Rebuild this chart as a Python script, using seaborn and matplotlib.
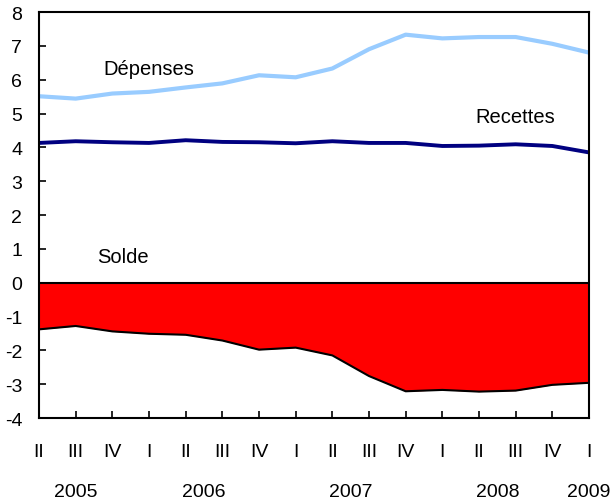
import matplotlib
matplotlib.use("Agg")
import matplotlib.pyplot as plt
import matplotlib.transforms as mtransforms
import seaborn as sns
import pandas as pd
import numpy as np

quarters = ["II", "III", "IV", "I", "II", "III", "IV", "I", "II", "III", "IV", "I", "II", "III", "IV", "I"]
years = ["2005", "2006", "2007", "2008", "2009"]
year_pos = [1, 4.5, 8.5, 12.5, 15]
depenses = [5.51, 5.44, 5.59, 5.64, 5.77, 5.89, 6.13, 6.07, 6.33, 6.90, 7.33, 7.22, 7.26, 7.26, 7.06, 6.80]
recettes = [4.13, 4.18, 4.15, 4.13, 4.21, 4.16, 4.15, 4.12, 4.18, 4.13, 4.13, 4.04, 4.05, 4.09, 4.04, 3.85]
solde = [-1.38, -1.28, -1.44, -1.51, -1.54, -1.71, -1.98, -1.92, -2.15, -2.76, -3.21, -3.17, -3.22, -3.19, -3.02, -2.96]

sns.set_theme(style="white")
plt.rcParams['font.family'] = ['Liberation Sans', 'DejaVu Sans']
plt.rcParams['axes.unicode_minus'] = False

df = pd.DataFrame({"x": np.arange(len(quarters)), "dep": depenses, "rec": recettes, "sol": solde})

fig = plt.figure(figsize=(6.11, 5.02), dpi=100)
ax = fig.add_axes([39/611, 1-419/502, (589-39)/611, (419-13)/502])

ax.fill_between(df["x"], 0, df["sol"], color="#FF0000", linewidth=0, zorder=1)
sns.lineplot(data=df, x="x", y="sol", color="black", linewidth=1.5, ax=ax, zorder=3)
ax.axhline(0, color="black", linewidth=1.5, zorder=3)
sns.lineplot(data=df, x="x", y="dep", color="#99CCFF", linewidth=3.0, ax=ax, zorder=4)
sns.lineplot(data=df, x="x", y="rec", color="#000080", linewidth=2.8, ax=ax, zorder=4)

ax.set_xlim(0, len(quarters) - 1)
ax.set_ylim(-4, 8)
ax.set_yticks(range(-4, 9))
ax.set_xticks(df["x"])
ax.set_xticklabels(quarters)
ax.set_xlabel("")
ax.set_ylabel("")
ax.tick_params(axis="both", direction="in", length=5, width=1.2, color="black",
               labelsize=14, labelcolor="black")
ax.tick_params(axis="y", pad=12)
ax.tick_params(axis="x", pad=18)
ax.tick_params(left=True, bottom=True)
for s in ax.spines.values():
    s.set_color("black")
    s.set_linewidth(1.5)
    s.set_zorder(5)

trans = mtransforms.blended_transform_factory(ax.transData, fig.transFigure)
for yr, p in zip(years, year_pos):
    ax.text(p, 1 - 497/502, yr, transform=trans, ha="center", va="baseline", fontsize=14, color="black")

ax.text(3.0, 6.33, "Dépenses", ha="center", va="center", fontsize=14.5, color="black")
ax.text(2.3, 0.77, "Solde", ha="center", va="center", fontsize=14.5, color="black")
ax.text(13.0, 4.9, "Recettes", ha="center", va="center", fontsize=14.5, color="black")

fig.savefig("out.png", dpi=100)
